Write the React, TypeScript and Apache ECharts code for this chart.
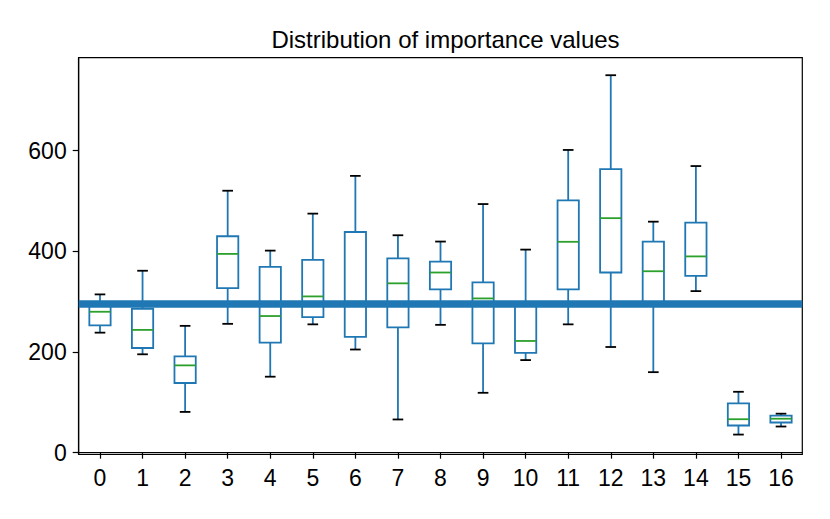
import React, { useEffect, useRef } from "react";
import * as echarts from "echarts";

const categories = ["0","1","2","3","4","5","6","7","8","9","10","11","12","13","14","15","16"];
const whiskerLow = [238.5, 195.5, 81, 256, 151, 255, 205, 66, 254, 119, 184, 255, 210, 160, 321, 36, 52];
const q1Values = [253, 208, 138.5, 327, 218.5, 269.5, 230, 249, 324.5, 217, 198.5, 324.5, 358, 298, 351.5, 54, 60];
const medianValues = [280, 244, 173.5, 395, 271.5, 310.5, 300, 336.5, 358, 306.5, 222, 419, 466, 360.5, 390, 66.5, 67.5];
const q3Values = [293, 286, 191.5, 430, 369, 383, 438.5, 386, 379.5, 338.5, 295, 501.5, 563.5, 419.5, 457, 98, 73.5];
const whiskerHigh = [314.5, 361.5, 252, 520.5, 401.5, 475, 550, 432, 419.5, 494, 403.5, 601.5, 750, 459, 569.5, 121, 77.5];
const referenceValue = 296.5;
const yTickValues = [0, 200, 400, 600];
const titleText = "Distribution of importance values";

const BLUE = "#1f77b4";
const GREEN = "#2ca02c";
const FONT = "Liberation Sans";

export default function App() {
  const ref = useRef<HTMLDivElement>(null);
  useEffect(() => {
    if (!ref.current) return;
    const chart = echarts.init(ref.current, null, { renderer: "svg" });
    const data = categories.map((_, i) => [i, whiskerLow[i], q1Values[i], medianValues[i], q3Values[i], whiskerHigh[i]]);
    const option: any = {
      animation: false,
      backgroundColor: "#ffffff",
      title: {
        text: titleText,
        left: 440.5,
        top: 22,
        textAlign: "center",
        textStyle: { fontFamily: FONT, fontSize: 24, fontWeight: "normal", color: "#000" },
      },
      grid: {
        left: 78.7,
        right: 27.7,
        top: 57.7,
        bottom: 64.7,
        show: true,
        borderColor: "#000",
        borderWidth: 1.2,
        backgroundColor: "transparent",
      },
      xAxis: {
        type: "category",
        data: categories,
        boundaryGap: true,
        axisLine: { show: true, lineStyle: { color: "#000", width: 1.2 } },
        axisTick: { show: true, alignWithLabel: true, length: 6, lineStyle: { color: "#000", width: 1.2 } },
        axisLabel: { color: "#000", fontFamily: FONT, fontSize: 23, margin: 12 },
        splitLine: { show: false },
      },
      yAxis: {
        type: "value",
        min: -3.2,
        max: 784.8,
        axisLine: { show: true, lineStyle: { color: "#000", width: 1.2 } },
        axisTick: { show: true, length: 6, customValues: yTickValues, lineStyle: { color: "#000", width: 1.2 } },
        axisLabel: { color: "#000", fontFamily: FONT, fontSize: 23, margin: 12, customValues: yTickValues },
        splitLine: { show: false },
      },
      series: [
        {
          type: "line",
          data: [],
          z: 1,
          markLine: {
            silent: true,
            symbol: "none",
            label: { show: false },
            lineStyle: { color: BLUE, width: 7.5, type: "solid" },
            data: [{ yAxis: referenceValue }],
          },
        },
        {
          type: "custom",
          z: 3,
          data,
          encode: { x: 0, y: [1, 2, 3, 4, 5] },
          renderItem: (params: any, api: any) => {
            const idx = api.value(0);
            const bw = api.size([1, 0])[0] * 0.5;
            const cw = bw * 0.5;
            const pLo = api.coord([idx, api.value(1)]);
            const pQ1 = api.coord([idx, api.value(2)]);
            const pMed = api.coord([idx, api.value(3)]);
            const pQ3 = api.coord([idx, api.value(4)]);
            const pHi = api.coord([idx, api.value(5)]);
            const cx = pQ1[0];
            const lw = 1.8;
            return {
              type: "group",
              children: [
                { type: "line", shape: { x1: cx, y1: pLo[1], x2: cx, y2: pQ1[1] }, style: { stroke: BLUE, lineWidth: lw } },
                { type: "line", shape: { x1: cx, y1: pQ3[1], x2: cx, y2: pHi[1] }, style: { stroke: BLUE, lineWidth: lw } },
                { type: "rect", shape: { x: cx - bw / 2, y: pQ3[1], width: bw, height: pQ1[1] - pQ3[1] }, style: { stroke: BLUE, fill: "none", lineWidth: lw } },
                { type: "line", shape: { x1: cx - bw / 2, y1: pMed[1], x2: cx + bw / 2, y2: pMed[1] }, style: { stroke: GREEN, lineWidth: lw } },
                { type: "line", shape: { x1: cx - cw / 2, y1: pLo[1], x2: cx + cw / 2, y2: pLo[1] }, style: { stroke: "#000", lineWidth: lw } },
                { type: "line", shape: { x1: cx - cw / 2, y1: pHi[1], x2: cx + cw / 2, y2: pHi[1] }, style: { stroke: "#000", lineWidth: lw } },
              ],
            };
          },
        },
      ],
    };
    chart.setOption(option);
    return () => chart.dispose();
  }, []);
  return (
    <div
      ref={ref}
      style={{ position: "fixed", left: 0, top: 0, width: 830, height: 519, background: "#fff" }}
    />
  );
}
